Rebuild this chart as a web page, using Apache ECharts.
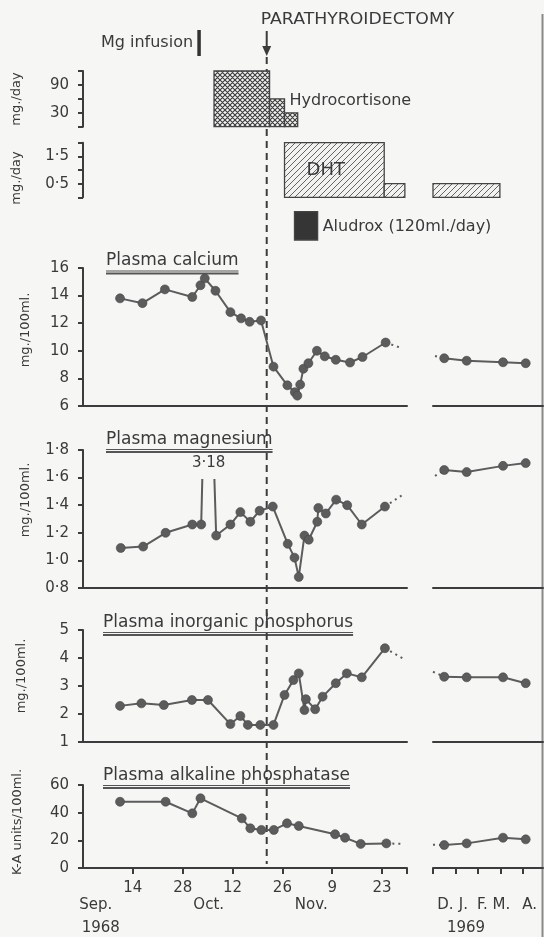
<!DOCTYPE html>
<html><head><meta charset="utf-8">
<script src="https://cdn.jsdelivr.net/npm/echarts@6/dist/echarts.min.js"></script>
<style>html,body{margin:0;padding:0;background:#f6f6f4}#c{width:544px;height:937px}</style>
</head><body><div id="c"></div>
<script>
// ---------------- DATA ----------------
// x in 1968: days after 14 Sep 1968 ; x in 1969 panel: months after 1 Dec 1968
const dayTickValues = [0, 14, 28, 42, 56, 70];
const dayTickLabels = ['14', '28', '12', '26', '9', '23'];
const monthNames1968 = ['Sep.', 'Oct.', 'Nov.'];
const monthNames1969 = ['D.', 'J.', 'F.', 'M.', 'A.'];
const yearNames = ['1968', '1969'];

const operationDay = 37.6;
const mgInfusionDay = 18.6;

// treatment steps: [startDay, endDay, dose]
const hydrocortisoneSteps = [[22.8, 38.4, 120], [38.4, 42.6, 60], [42.6, 46.3, 30]];
const dhtSteps1968 = [[42.6, 70.6, 2], [70.6, 76.4, 0.5]];
const dhtSteps1969 = [[0, 2.98, 0.5]];
const aludroxSteps = [[45.4, 51.9, 1]];

const caDays = [-3.6, 2.7, 9.0, 16.7, 19.0, 20.2, 23.2, 27.4, 30.4, 32.8, 36.0, 39.5, 43.4, 45.5, 46.2, 47.0, 47.9, 49.3, 51.7, 53.9, 57.0, 61.0, 64.5, 71.0];
const caValues = [13.8, 13.45, 14.45, 13.9, 14.75, 15.25, 14.35, 12.8, 12.35, 12.1, 12.2, 8.85, 7.5, 7.0, 6.75, 7.55, 8.7, 9.1, 10.0, 9.6, 9.35, 9.15, 9.55, 10.6];

const mgDays = [-3.4, 2.9, 9.2, 16.7, 19.2, 21.0, 23.4, 27.4, 30.2, 33.0, 35.6, 39.3, 43.5, 45.4, 46.6, 48.2, 49.4, 51.8, 52.1, 54.2, 57.1, 60.2, 64.3, 70.8];
const mgValues = [1.09, 1.10, 1.20, 1.26, 1.26, 3.18, 1.18, 1.26, 1.35, 1.28, 1.36, 1.39, 1.12, 1.02, 0.88, 1.18, 1.15, 1.28, 1.38, 1.34, 1.44, 1.40, 1.26, 1.39];

const phDays = [-3.6, 2.4, 8.7, 16.6, 21.1, 27.4, 30.2, 32.3, 35.8, 39.5, 42.6, 45.1, 46.6, 48.2, 48.6, 51.2, 53.3, 57.0, 60.1, 64.3, 70.8];
const phValues = [2.29, 2.38, 2.32, 2.50, 2.50, 1.64, 1.93, 1.61, 1.61, 1.61, 2.68, 3.21, 3.45, 2.14, 2.53, 2.17, 2.62, 3.10, 3.45, 3.31, 4.35];

const apDays = [-3.6, 9.2, 16.7, 19.0, 30.6, 33.0, 36.1, 39.6, 43.3, 46.6, 56.8, 59.6, 64.0, 71.2];
const apValues = [47.9, 47.9, 39.5, 50.4, 35.9, 28.7, 27.5, 27.5, 32.3, 30.4, 24.4, 21.9, 17.4, 17.8];

const months1969 = [0.5, 1.5, 3.12, 4.13];
const caValues1969 = [9.46, 9.28, 9.17, 9.10];
const mgValues1969 = [1.655, 1.64, 1.685, 1.705];
const phValues1969 = [3.33, 3.31, 3.31, 3.10];
const apValues1969 = [16.6, 17.8, 21.9, 20.7];

// dotted continuations: end of the 1968 trend, start of the 1969 lead-in
const caTrendEnd = [75.7, 10.18], caLeadStart = [0.09, 9.62];
const mgTrendEnd = [75.7, 1.474], mgLeadStart = [0.09, 1.612];
const phTrendEnd = [76.6, 3.93], phLeadStart = [0.0, 3.51];
const apTrendEnd = [75.6, 17.4], apLeadStart = [0.0, 16.8];

// ---------------- STYLE ----------------
const FONT = '"DejaVu Sans", sans-serif';
const INK = '#3a3a3a';
const AXIS = '#3c3c3c';
const DOT = '#5c5c5c';
const L = 83, MW = 324, RL = 433, RW = 110;
const DMIN = -14, DMAX = 77, MMAX = 4.9;

function makePattern(kind) {
  const c = document.createElement('canvas');
  const s = kind === 'cross' ? 5 : 6;
  c.width = s; c.height = s;
  const g = c.getContext('2d');
  g.fillStyle = '#f2f2f0'; g.fillRect(0, 0, s, s);
  g.strokeStyle = kind === 'cross' ? '#3a3a3a' : '#555';
  g.lineWidth = kind === 'cross' ? 1.1 : 0.9;
  g.beginPath();
  g.moveTo(-1, s + 1); g.lineTo(s + 1, -1);
  g.moveTo(-1, 1); g.lineTo(1, -1);
  g.moveTo(s - 1, s + 1); g.lineTo(s + 1, s - 1);
  if (kind === 'cross') {
    g.moveTo(-1, -1); g.lineTo(s + 1, s + 1);
    g.moveTo(s - 1, -1); g.lineTo(s + 1, 1);
    g.moveTo(-1, s - 1); g.lineTo(1, s + 1);
  }
  g.stroke();
  return {image: c, repeat: 'repeat'};
}
const crossFill = makePattern('cross');
const hatchFill = makePattern('hatch');

const dec = v => v.toFixed(1).replace('.', '\u00b7');

function gridL(top, h) { return {left: L, top: top, width: MW, height: h, outerBoundsMode: 'none'}; }
function gridR(top, h) { return {left: RL, top: top, width: RW, height: h, outerBoundsMode: 'none'}; }

const grids = [
  gridL(71, 55.7),      // 0 hydrocortisone
  gridL(142.7, 54.6),   // 1 DHT 1968
  gridR(142.7, 54.6),   // 2 DHT 1969
  gridL(211.7, 28.3),   // 3 Aludrox
  gridL(268, 138), gridR(268, 138),   // 4,5 calcium
  gridL(450, 138), gridR(450, 138),   // 6,7 magnesium
  gridL(630, 112), gridR(630, 112),   // 8,9 phosphorus
  gridL(785, 83), gridR(785, 83),     // 10,11 alk phos
  gridL(57, 811)        // 12 overlay (operation line)
];

const axLine = {show: true, onZero: false, lineStyle: {color: AXIS, width: 2}};
const lbl = {fontFamily: FONT, fontSize: 15, color: INK};

function xAx(gi, right, extra) {
  return Object.assign({
    gridIndex: gi, type: 'value', min: 0, max: right ? MMAX : DMAX,
    show: true, axisLine: axLine, axisTick: {show: false}, axisLabel: {show: false},
    splitLine: {show: false}
  }, right ? {} : {min: DMIN, interval: 14}, extra || {});
}
function xHidden(gi, right) {
  return {gridIndex: gi, type: 'value', min: right ? 0 : DMIN, max: right ? MMAX : DMAX, show: false, axisLine: {onZero: false}};
}
function yAx(gi, min, max, interval, labelVals, fmt) {
  return {
    gridIndex: gi, type: 'value', min: min, max: max, interval: interval, position: 'left',
    axisLine: axLine,
    axisTick: {show: true, inside: false, length: 5, lineStyle: {color: AXIS, width: 2}},
    axisLabel: Object.assign({margin: 14, formatter: fmt || (v => String(v))}, lbl,
      labelVals ? {customValues: labelVals} : {}),
    splitLine: {show: false}
  };
}
function yHidden(gi, min, max) { return {gridIndex: gi, type: 'value', min: min, max: max, show: false, axisLine: {onZero: false}}; }

const xAxes = [
  xHidden(0), xHidden(1), xHidden(2, true), xHidden(3),
  xAx(4), xAx(5, true), xAx(6), xAx(7, true), xAx(8), xAx(9, true),
  xAx(10, false, {
    axisTick: {show: true, length: 6, customValues: dayTickValues.concat([DMAX]), lineStyle: {color: AXIS, width: 2}},
    axisLabel: Object.assign({show: true, margin: 13, customValues: dayTickValues,
      formatter: v => dayTickLabels[dayTickValues.indexOf(v)] || ''}, lbl)
  }),
  xAx(11, true, {
    axisTick: {show: true, length: 6, customValues: [0, 1, 2, 3, 4], lineStyle: {color: AXIS, width: 2}},
    axisLabel: Object.assign({show: true, margin: 30, customValues: [0.55, 1.35, 2.2, 3.05, 4.3],
      formatter: (v) => monthNames1969[[0.55, 1.35, 2.2, 3.05, 4.3].indexOf(v)] || ''}, lbl)
  }),
  xHidden(12),
  // 13: month names 1968
  {gridIndex: 10, type: 'value', min: DMIN, max: DMAX, position: 'bottom', offset: 16,
    axisLine: {show: false, onZero: false}, axisTick: {show: false}, splitLine: {show: false},
    axisLabel: Object.assign({show: true, margin: 14, customValues: [-10.4, 21.3, 50.1],
      formatter: v => monthNames1968[[-10.4, 21.3, 50.1].indexOf(v)] || ''}, lbl)},
  // 14: year 1968
  {gridIndex: 10, type: 'value', min: DMIN, max: DMAX, position: 'bottom', offset: 39,
    axisLine: {show: false, onZero: false}, axisTick: {show: false}, splitLine: {show: false},
    axisLabel: Object.assign({show: true, margin: 14, customValues: [-9.0],
      formatter: () => yearNames[0]}, lbl)},
  // 15: year 1969
  {gridIndex: 11, type: 'value', min: 0, max: MMAX, position: 'bottom', offset: 23,
    axisLine: {show: false, onZero: false}, axisTick: {show: false}, splitLine: {show: false},
    axisLabel: Object.assign({show: true, margin: 30, customValues: [1.47],
      formatter: () => yearNames[1]}, lbl)}
];

const yAxes = [
  yAx(0, 0, 120, 30, [30, 90]),
  yAx(1, 0, 2, 0.5, [0.5, 1.5], dec),
  yHidden(2, 0, 2),
  yHidden(3, 0, 1),
  yAx(4, 6, 16, 2), yHidden(5, 6, 16),
  yAx(6, 0.8, 1.8, 0.2, null, dec), yHidden(7, 0.8, 1.8),
  yAx(8, 1, 5, 1), yHidden(9, 1, 5),
  yAx(10, 0, 60, 20), yHidden(11, 0, 60),
  yHidden(12, 0, 1)
];

// ---------------- SERIES ----------------
const series = [];
const zip = (a, b) => a.map((v, i) => [v, b[i]]);

function stepSeries(gi, steps, fill, labelFn) {
  series.push({
    type: 'custom', xAxisIndex: gi, yAxisIndex: gi, data: steps, silent: true,
    renderItem: function (params, api) {
      const s = api.value(0), e = api.value(1), v = api.value(2);
      const p0 = api.coord([s, v]), p1 = api.coord([e, 0]);
      const ch = [{type: 'rect', shape: {x: p0[0], y: p0[1], width: p1[0] - p0[0], height: p1[1] - p0[1]},
        style: {fill: fill, stroke: '#444', lineWidth: 1.3}}];
      if (labelFn) { const t = labelFn(params.dataIndex, api, s, e, v); if (t) ch.push(t); }
      return {type: 'group', children: ch};
    }
  });
}
function txt(x, y, text, size, align, sx) {
  return {type: 'text', x: x, y: y, scaleX: sx || 1, style: {text: text, fill: INK, fontFamily: FONT, fontSize: size || 16,
    align: align || 'left', verticalAlign: 'middle'}};
}

stepSeries(0, hydrocortisoneSteps, crossFill, (i, api, s, e, v) => {
  if (i !== 1) return null;
  const p = api.coord([e, v]); return txt(p[0] + 5, p[1] + 2, 'Hydrocortisone', 16);
});
stepSeries(1, dhtSteps1968, hatchFill, (i, api, s, e, v) => {
  if (i !== 0) return null;
  const p = api.coord([s, v / 2]); return txt(p[0] + 22, p[1], 'DHT', 18);
});
stepSeries(2, dhtSteps1969, hatchFill);
stepSeries(3, aludroxSteps, '#353535', (i, api, s, e, v) => {
  const p = api.coord([e, v / 2]); return txt(p[0] + 5, p[1] + 1, 'Aludrox (120ml./day)', 16);
});

function mainLine(gi, data) {
  series.push({type: 'line', xAxisIndex: gi, yAxisIndex: gi, data: data, symbol: 'circle', symbolSize: 9,
    connectNulls: false,
    itemStyle: {color: DOT, borderColor: '#474747', borderWidth: 0.6},
    lineStyle: {color: DOT, width: 2}, silent: true, z: 3});
}
function dottedLine(gi, data) {
  series.push({type: 'line', xAxisIndex: gi, yAxisIndex: gi, data: data, symbol: 'none',
    lineStyle: {color: DOT, width: 2, type: [2, 4]}, silent: true, z: 2});
}
function panel(gL, gR, days, vals, trendEnd, later, leadStart, yMax) {
  const d = zip(days, vals).map(p => p[1] > yMax ? [p[0], '-'] : p);
  mainLine(gL, d);
  dottedLine(gL, [[days[days.length - 1], vals[vals.length - 1]], trendEnd]);
  dottedLine(gR, [leadStart, [months1969[0], later[0]]]);
  mainLine(gR, zip(months1969, later));
}
panel(4, 5, caDays, caValues, caTrendEnd, caValues1969, caLeadStart, 16);
panel(6, 7, mgDays, mgValues, mgTrendEnd, mgValues1969, mgLeadStart, 1.8);
panel(8, 9, phDays, phValues, phTrendEnd, phValues1969, phLeadStart, 5);
panel(10, 11, apDays, apValues, apTrendEnd, apValues1969, apLeadStart, 60);

// off-scale magnesium value: spike lines cut below the printed value
const pk = mgValues.findIndex(v => v > 1.8);
series.push({
  type: 'custom', xAxisIndex: 6, yAxisIndex: 6, silent: true, z: 3,
  data: [[mgDays[pk - 1], mgValues[pk - 1], mgDays[pk], mgValues[pk], mgDays[pk + 1], mgValues[pk + 1]]],
  renderItem: function (params, api) {
    const a = [api.value(0), api.value(1)], p = [api.value(2), api.value(3)], b = [api.value(4), api.value(5)];
    const cut = 1.59;
    const ca = api.coord([a[0] + (p[0] - a[0]) * (cut - a[1]) / (p[1] - a[1]), cut]);
    const cb = api.coord([b[0] + (p[0] - b[0]) * (cut - b[1]) / (p[1] - b[1]), cut]);
    const pa = api.coord(a), pb = api.coord(b);
    const st = {stroke: DOT, lineWidth: 2};
    const lp = api.coord([p[0], 1.705]);
    return {type: 'group', children: [
      {type: 'line', shape: {x1: pa[0], y1: pa[1], x2: ca[0], y2: ca[1]}, style: st},
      {type: 'line', shape: {x1: pb[0], y1: pb[1], x2: cb[0], y2: cb[1]}, style: st},
      txt(lp[0] + 1, lp[1], String(p[1]).replace('.', '\u00b7'), 15, 'center')
    ]};
  }
});

// operation line + arrow + label, Mg infusion mark
series.push({
  type: 'custom', xAxisIndex: 12, yAxisIndex: 12, silent: true, z: 1,
  data: [[operationDay]],
  renderItem: function (params, api) {
    const t = api.coord([api.value(0), 1]), b = api.coord([api.value(0), 0]);
    return {type: 'group', children: [
      {type: 'line', shape: {x1: t[0], y1: t[1], x2: b[0], y2: b[1] - 4}, style: {stroke: AXIS, lineWidth: 2, lineDash: [7, 5]}},
      {type: 'line', shape: {x1: t[0], y1: t[1] - 26, x2: t[0], y2: t[1] - 8}, style: {stroke: AXIS, lineWidth: 2}},
      {type: 'polygon', shape: {points: [[t[0] - 4.5, t[1] - 11], [t[0] + 4.5, t[1] - 11], [t[0], t[1] - 1]]}, style: {fill: AXIS}},
      txt(t[0] - 6, t[1] - 37, 'PARATHYROIDECTOMY', 16, 'left', 1.08)
    ]};
  }
});
series.push({
  type: 'custom', xAxisIndex: 12, yAxisIndex: 12, silent: true, z: 1,
  data: [[mgInfusionDay]],
  renderItem: function (params, api) {
    const t = api.coord([api.value(0), 1]);
    return {type: 'group', children: [
      {type: 'line', shape: {x1: t[0], y1: t[1] - 27, x2: t[0], y2: t[1] - 1}, style: {stroke: '#333', lineWidth: 3.5}},
      txt(t[0] - 6, t[1] - 14, 'Mg infusion', 16, 'right')
    ]};
  }
});

// ---------------- TEXT DECORATION ----------------
const meas = document.createElement('canvas').getContext('2d');
const titles = [
  ['Plasma calcium', 106, 269.5],
  ['Plasma magnesium', 106, 448],
  ['Plasma inorganic phosphorus', 103, 631],
  ['Plasma alkaline phosphatase', 103, 784]
];
const graphic = [];
titles.forEach(([t, x, base]) => {
  meas.font = '17px "DejaVu Sans"';
  const w = meas.measureText(t).width;
  graphic.push({type: 'text', x: x, y: base, style: {text: t, fill: INK, fontFamily: FONT, fontSize: 17, align: 'left', verticalAlign: 'bottom'}, silent: true});
  graphic.push({type: 'line', shape: {x1: x, y1: base + 1.5, x2: x + w, y2: base + 1.5}, style: {stroke: '#555', lineWidth: 1}, silent: true});
  graphic.push({type: 'line', shape: {x1: x, y1: base + 4, x2: x + w, y2: base + 4}, style: {stroke: '#555', lineWidth: 2}, silent: true});
});
const yNames = [
  ['mg./day', 17, 99], ['mg./day', 17, 178],
  ['mg./100ml.', 26, 330], ['mg./100ml.', 26, 500], ['mg./100ml.', 22, 676], ['K-A units/100ml.', 18, 822]
];
yNames.forEach(([t, x, y]) => graphic.push({type: 'text', x: x, y: y, rotation: Math.PI / 2,
  style: {text: t, fill: INK, fontFamily: FONT, fontSize: 13, align: 'center', verticalAlign: 'middle'}, silent: true}));
graphic.push({type: 'line', shape: {x1: 542.5, y1: 14, x2: 542.5, y2: 937}, style: {stroke: '#8a8a8a', lineWidth: 2}, silent: true});

const chart = echarts.init(document.getElementById('c'), null, {width: 544, height: 937});
chart.setOption({
  animation: false,
  backgroundColor: '#f6f6f4',
  grid: grids, xAxis: xAxes, yAxis: yAxes, series: series, graphic: graphic
});
</script></body></html>
